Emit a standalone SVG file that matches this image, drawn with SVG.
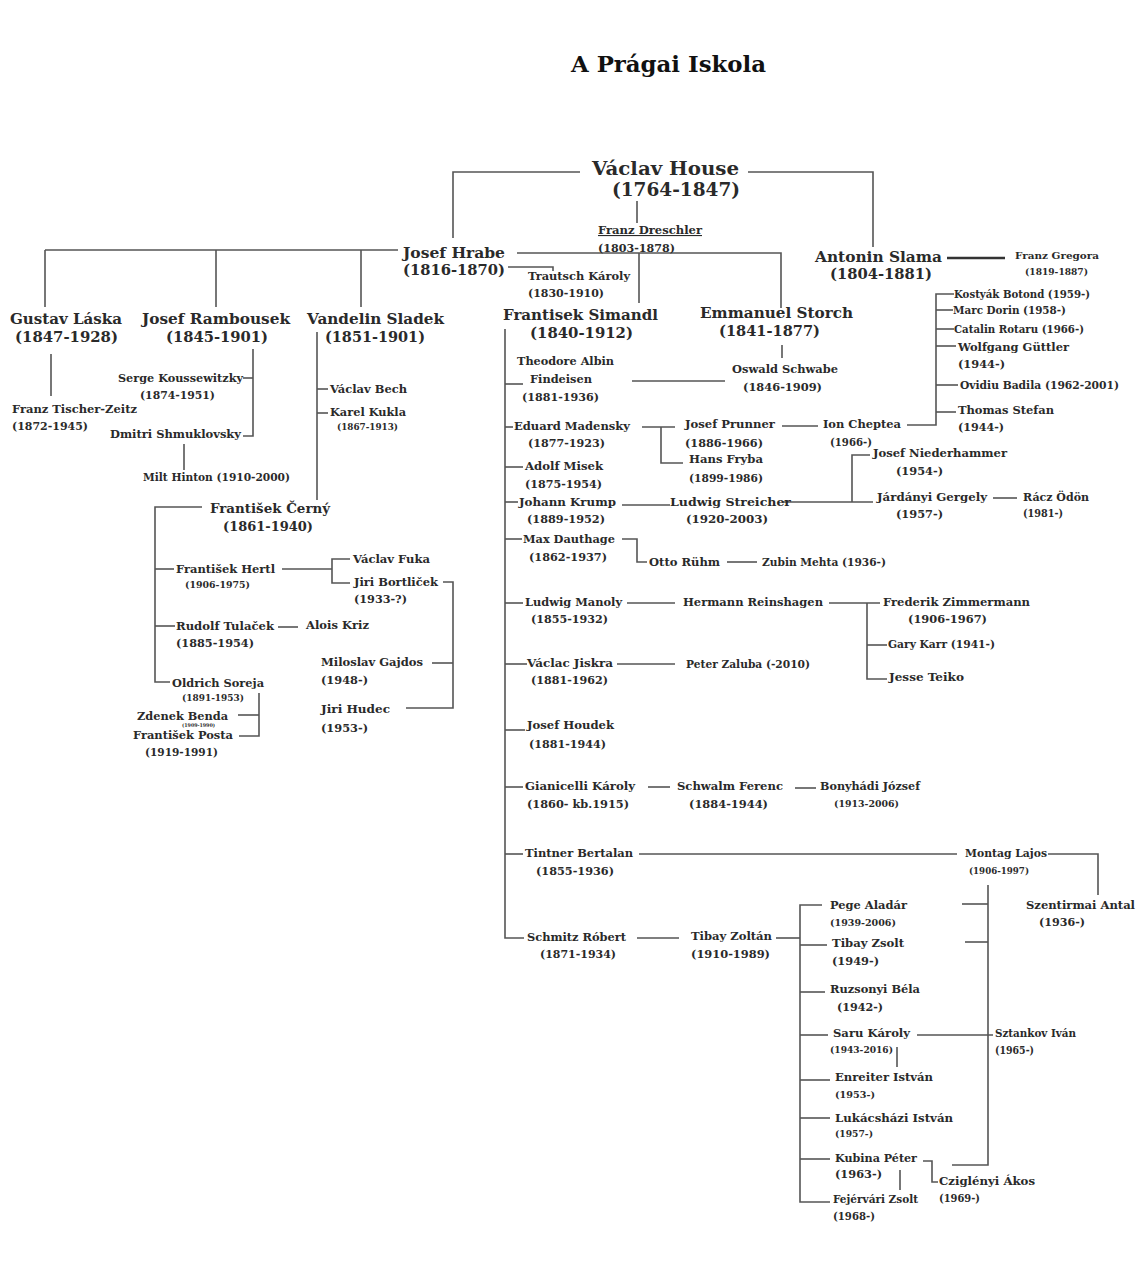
<svg xmlns="http://www.w3.org/2000/svg" width="1140" height="1270" viewBox="0 0 1140 1270">
<style>
text{font-family:"DejaVu Serif","Liberation Serif",serif;font-weight:bold;fill:#2a2a2a}
.t{font-size:22px;fill:#111}
.h1{font-size:18px}
.h2{font-size:15.5px}
.m{font-size:13px}
.s{font-size:11px}
.xs{font-size:9.5px}
.tiny{font-size:5px}
#connectors polyline,#connectors line{stroke:#555;stroke-width:1.6;fill:none}
#connectors .thick{stroke:#333;stroke-width:2.6}
</style>
<rect width="1140" height="1270" fill="#fff"/>
<text class="t" x="571" y="72" textLength="195" lengthAdjust="spacingAndGlyphs">A Prágai Iskola</text>
<g id="connectors">
<polyline points="580,172 453,172 453,238"/>
<polyline points="748,172 873,172 873,247"/>
<line x1="637" y1="201" x2="637" y2="223"/>
<line x1="398" y1="250" x2="45" y2="250"/>
<line x1="45" y1="250" x2="45" y2="307"/>
<line x1="216" y1="250" x2="216" y2="307"/>
<line x1="361" y1="250" x2="361" y2="307"/>
<polyline points="517,253 781,253 781,308"/>
<line x1="639" y1="253" x2="639" y2="303"/>
<polyline points="508,267 553,267 553,271"/>
<line class="thick" x1="947" y1="258" x2="1005" y2="258"/>
<line x1="51" y1="354" x2="51" y2="396"/>
<polyline points="243,378 253,378"/>
<polyline points="253,349 253,436 243,436"/>
<line x1="184" y1="444" x2="184" y2="470"/>
<line x1="317" y1="332" x2="317" y2="500"/>
<line x1="317" y1="389" x2="328" y2="389"/>
<line x1="317" y1="413" x2="328" y2="413"/>
<polyline points="202,507 155,507 155,682 170,682"/>
<line x1="155" y1="569" x2="174" y2="569"/>
<line x1="155" y1="626" x2="175" y2="626"/>
<line x1="282" y1="569" x2="332" y2="569"/>
<polyline points="350,559 332,559 332,583 350,583"/>
<polyline points="443,582 453,582 453,708 406,708"/>
<line x1="432" y1="663" x2="453" y2="663"/>
<line x1="278" y1="627" x2="298" y2="627"/>
<polyline points="238,715 259,715"/>
<polyline points="259,693 259,736 239,736"/>
<polyline points="505,329 505,938 524,938"/>
<line x1="505" y1="384" x2="523" y2="384"/>
<line x1="505" y1="427" x2="513" y2="427"/>
<line x1="505" y1="467" x2="523" y2="467"/>
<line x1="505" y1="502" x2="518" y2="502"/>
<line x1="505" y1="539" x2="522" y2="539"/>
<line x1="505" y1="603" x2="523" y2="603"/>
<line x1="505" y1="664" x2="527" y2="664"/>
<line x1="505" y1="730" x2="525" y2="730"/>
<line x1="505" y1="787" x2="523" y2="787"/>
<line x1="505" y1="854" x2="523" y2="854"/>
<line x1="632" y1="381" x2="725" y2="381"/>
<line x1="782" y1="345" x2="782" y2="358"/>
<line x1="642" y1="427" x2="675" y2="427"/>
<polyline points="661,427 661,463 683,463"/>
<line x1="782" y1="426" x2="818" y2="426"/>
<polyline points="907,425 936,425 936,294 954,294"/>
<line x1="936" y1="310" x2="953" y2="310"/>
<line x1="936" y1="329" x2="954" y2="329"/>
<line x1="936" y1="346" x2="956" y2="346"/>
<line x1="936" y1="385" x2="958" y2="385"/>
<line x1="936" y1="412" x2="956" y2="412"/>
<line x1="622" y1="505" x2="670" y2="505"/>
<line x1="782" y1="502" x2="873" y2="502"/>
<polyline points="870,455 852,455 852,502"/>
<line x1="993" y1="498" x2="1017" y2="498"/>
<polyline points="622,539 637,539 637,562 647,562"/>
<line x1="727" y1="562" x2="757" y2="562"/>
<line x1="627" y1="603" x2="675" y2="603"/>
<polyline points="829,603 880,603"/>
<polyline points="867,603 867,679 887,679"/>
<line x1="867" y1="645" x2="887" y2="645"/>
<line x1="617" y1="664" x2="675" y2="664"/>
<line x1="648" y1="787" x2="670" y2="787"/>
<line x1="795" y1="788" x2="816" y2="788"/>
<line x1="639" y1="854" x2="957" y2="854"/>
<polyline points="1048,854 1098,854 1098,895"/>
<line x1="637" y1="938" x2="679" y2="938"/>
<line x1="776" y1="938" x2="800" y2="938"/>
<polyline points="822,905 800,905 800,1202 830,1202"/>
<line x1="800" y1="945" x2="827" y2="945"/>
<line x1="800" y1="992" x2="825" y2="992"/>
<line x1="800" y1="1035" x2="828" y2="1035"/>
<line x1="800" y1="1080" x2="830" y2="1080"/>
<line x1="800" y1="1118" x2="830" y2="1118"/>
<line x1="800" y1="1159" x2="830" y2="1159"/>
<polyline points="988,885 988,1165 952,1165"/>
<line x1="962" y1="904" x2="988" y2="904"/>
<line x1="965" y1="942" x2="988" y2="942"/>
<line x1="917" y1="1035" x2="993" y2="1035"/>
<line x1="897" y1="1047" x2="897" y2="1067"/>
<polyline points="923,1161 932,1161 932,1182 938,1182"/>
<line x1="900" y1="1170" x2="900" y2="1190"/>
</g>
<g id="n-house"><text class="h1" x="592" y="175" textLength="147" lengthAdjust="spacingAndGlyphs">Václav House</text><text class="h1" x="612" y="196" textLength="128" lengthAdjust="spacingAndGlyphs">(1764-1847)</text></g>
<g id="n-dreschler"><text class="s" x="598" y="234" textLength="104" lengthAdjust="spacingAndGlyphs" text-decoration="underline">Franz Dreschler</text><text class="s" x="598" y="252" textLength="77" lengthAdjust="spacingAndGlyphs">(1803-1878)</text></g>
<g id="n-hrabe"><text class="h2" x="403" y="258" textLength="102" lengthAdjust="spacingAndGlyphs">Josef Hrabe</text><text class="h2" x="403" y="275" textLength="102" lengthAdjust="spacingAndGlyphs">(1816-1870)</text></g>
<g id="n-trautsch"><text class="s" x="528" y="280" textLength="102" lengthAdjust="spacingAndGlyphs">Trautsch Károly</text><text class="s" x="528" y="297" textLength="76" lengthAdjust="spacingAndGlyphs">(1830-1910)</text></g>
<g id="n-slama"><text class="h2" x="815" y="262" textLength="127" lengthAdjust="spacingAndGlyphs">Antonin Slama</text><text class="h2" x="830" y="279" textLength="102" lengthAdjust="spacingAndGlyphs">(1804-1881)</text></g>
<g id="n-gregora"><text class="xs" x="1015" y="259" textLength="84" lengthAdjust="spacingAndGlyphs">Franz Gregora</text><text class="xs" x="1025" y="275" textLength="63" lengthAdjust="spacingAndGlyphs">(1819-1887)</text></g>
<g id="n-laska"><text class="h2" x="10" y="324" textLength="112" lengthAdjust="spacingAndGlyphs">Gustav Láska</text><text class="h2" x="15" y="342" textLength="103" lengthAdjust="spacingAndGlyphs">(1847-1928)</text></g>
<g id="n-rambousek"><text class="h2" x="142" y="324" textLength="148" lengthAdjust="spacingAndGlyphs">Josef Rambousek</text><text class="h2" x="166" y="342" textLength="102" lengthAdjust="spacingAndGlyphs">(1845-1901)</text></g>
<g id="n-sladek"><text class="h2" x="307" y="324" textLength="137" lengthAdjust="spacingAndGlyphs">Vandelin Sladek</text><text class="h2" x="325" y="342" textLength="100" lengthAdjust="spacingAndGlyphs">(1851-1901)</text></g>
<g id="n-simandl"><text class="h2" x="503" y="320" textLength="155" lengthAdjust="spacingAndGlyphs">Frantisek Simandl</text><text class="h2" x="530" y="338" textLength="103" lengthAdjust="spacingAndGlyphs">(1840-1912)</text></g>
<g id="n-storch"><text class="h2" x="700" y="318" textLength="153" lengthAdjust="spacingAndGlyphs">Emmanuel Storch</text><text class="h2" x="719" y="336" textLength="101" lengthAdjust="spacingAndGlyphs">(1841-1877)</text></g>
<g id="n-tischer"><text class="s" x="12" y="413" textLength="125" lengthAdjust="spacingAndGlyphs">Franz Tischer-Zeitz</text><text class="s" x="12" y="430" textLength="76" lengthAdjust="spacingAndGlyphs">(1872-1945)</text></g>
<g id="n-koussewitzky"><text class="s" x="118" y="382" textLength="125" lengthAdjust="spacingAndGlyphs">Serge Koussewitzky</text><text class="s" x="140" y="399" textLength="75" lengthAdjust="spacingAndGlyphs">(1874-1951)</text></g>
<g id="n-shmuklovsky"><text class="s" x="110" y="438" textLength="131" lengthAdjust="spacingAndGlyphs">Dmitri Shmuklovsky</text></g>
<g id="n-hinton"><text class="s" x="143" y="481" textLength="147" lengthAdjust="spacingAndGlyphs">Milt Hinton (1910-2000)</text></g>
<g id="n-bech"><text class="s" x="330" y="393" textLength="77" lengthAdjust="spacingAndGlyphs">Václav Bech</text></g>
<g id="n-kukla"><text class="s" x="330" y="416" textLength="76" lengthAdjust="spacingAndGlyphs">Karel Kukla</text><text class="xs" x="337" y="430" textLength="61" lengthAdjust="spacingAndGlyphs">(1867-1913)</text></g>
<g id="n-cerny"><text class="m" x="210" y="513" textLength="120" lengthAdjust="spacingAndGlyphs">František Černý</text><text class="m" x="223" y="531" textLength="90" lengthAdjust="spacingAndGlyphs">(1861-1940)</text></g>
<g id="n-hertl"><text class="s" x="176" y="573" textLength="99" lengthAdjust="spacingAndGlyphs">František Hertl</text><text class="xs" x="185" y="588" textLength="65" lengthAdjust="spacingAndGlyphs">(1906-1975)</text></g>
<g id="n-fuka"><text class="s" x="353" y="563" textLength="77" lengthAdjust="spacingAndGlyphs">Václav Fuka</text></g>
<g id="n-bortlicek"><text class="s" x="354" y="586" textLength="84" lengthAdjust="spacingAndGlyphs">Jiri Bortliček</text><text class="s" x="354" y="603" textLength="53" lengthAdjust="spacingAndGlyphs">(1933-?)</text></g>
<g id="n-tulacek"><text class="s" x="176" y="630" textLength="98" lengthAdjust="spacingAndGlyphs">Rudolf Tulaček</text><text class="s" x="176" y="647" textLength="78" lengthAdjust="spacingAndGlyphs">(1885-1954)</text></g>
<g id="n-kriz"><text class="s" x="306" y="629" textLength="63" lengthAdjust="spacingAndGlyphs">Alois Kriz</text></g>
<g id="n-soreja"><text class="s" x="172" y="687" textLength="92" lengthAdjust="spacingAndGlyphs">Oldrich Soreja</text><text class="xs" x="182" y="701" textLength="62" lengthAdjust="spacingAndGlyphs">(1891-1953)</text></g>
<g id="n-benda"><text class="s" x="137" y="720" textLength="91" lengthAdjust="spacingAndGlyphs">Zdenek Benda</text><text class="tiny" x="182" y="727" textLength="33" lengthAdjust="spacingAndGlyphs">(1909-1990)</text></g>
<g id="n-posta"><text class="s" x="133" y="739" textLength="100" lengthAdjust="spacingAndGlyphs">František Posta</text><text class="s" x="145" y="756" textLength="73" lengthAdjust="spacingAndGlyphs">(1919-1991)</text></g>
<g id="n-gajdos"><text class="s" x="321" y="666" textLength="102" lengthAdjust="spacingAndGlyphs">Miloslav Gajdos</text><text class="s" x="321" y="684" textLength="47" lengthAdjust="spacingAndGlyphs">(1948-)</text></g>
<g id="n-hudec"><text class="s" x="321" y="713" textLength="69" lengthAdjust="spacingAndGlyphs">Jiri Hudec</text><text class="s" x="321" y="732" textLength="47" lengthAdjust="spacingAndGlyphs">(1953-)</text></g>
<g id="n-findeisen"><text class="s" x="517" y="365" textLength="97" lengthAdjust="spacingAndGlyphs">Theodore Albin</text><text class="s" x="530" y="383" textLength="62" lengthAdjust="spacingAndGlyphs">Findeisen</text><text class="s" x="522" y="401" textLength="77" lengthAdjust="spacingAndGlyphs">(1881-1936)</text></g>
<g id="n-schwabe"><text class="s" x="732" y="373" textLength="106" lengthAdjust="spacingAndGlyphs">Oswald Schwabe</text><text class="s" x="743" y="391" textLength="79" lengthAdjust="spacingAndGlyphs">(1846-1909)</text></g>
<g id="n-madensky"><text class="s" x="514" y="430" textLength="116" lengthAdjust="spacingAndGlyphs">Eduard Madensky</text><text class="s" x="528" y="447" textLength="77" lengthAdjust="spacingAndGlyphs">(1877-1923)</text></g>
<g id="n-prunner"><text class="s" x="685" y="428" textLength="90" lengthAdjust="spacingAndGlyphs">Josef Prunner</text><text class="s" x="685" y="447" textLength="78" lengthAdjust="spacingAndGlyphs">(1886-1966)</text></g>
<g id="n-fryba"><text class="s" x="689" y="463" textLength="74" lengthAdjust="spacingAndGlyphs">Hans Fryba</text><text class="s" x="689" y="482" textLength="74" lengthAdjust="spacingAndGlyphs">(1899-1986)</text></g>
<g id="n-cheptea"><text class="s" x="823" y="428" textLength="78" lengthAdjust="spacingAndGlyphs">Ion Cheptea</text><text class="s" x="830" y="446" textLength="42" lengthAdjust="spacingAndGlyphs">(1966-)</text></g>
<g id="n-kostyak"><text class="s" x="954" y="298" textLength="136" lengthAdjust="spacingAndGlyphs">Kostyák Botond (1959-)</text></g>
<g id="n-dorin"><text class="s" x="953" y="314" textLength="113" lengthAdjust="spacingAndGlyphs">Marc Dorin (1958-)</text></g>
<g id="n-rotaru"><text class="s" x="954" y="333" textLength="130" lengthAdjust="spacingAndGlyphs">Catalin Rotaru (1966-)</text></g>
<g id="n-guttler"><text class="s" x="958" y="351" textLength="111" lengthAdjust="spacingAndGlyphs">Wolfgang Güttler</text><text class="s" x="958" y="368" textLength="47" lengthAdjust="spacingAndGlyphs">(1944-)</text></g>
<g id="n-badila"><text class="s" x="960" y="389" textLength="159" lengthAdjust="spacingAndGlyphs">Ovidiu Badila (1962-2001)</text></g>
<g id="n-stefan"><text class="s" x="958" y="414" textLength="96" lengthAdjust="spacingAndGlyphs">Thomas Stefan</text><text class="s" x="958" y="431" textLength="46" lengthAdjust="spacingAndGlyphs">(1944-)</text></g>
<g id="n-misek"><text class="s" x="525" y="470" textLength="78" lengthAdjust="spacingAndGlyphs">Adolf Misek</text><text class="s" x="525" y="488" textLength="77" lengthAdjust="spacingAndGlyphs">(1875-1954)</text></g>
<g id="n-krump"><text class="s" x="519" y="506" textLength="97" lengthAdjust="spacingAndGlyphs">Johann Krump</text><text class="s" x="527" y="523" textLength="78" lengthAdjust="spacingAndGlyphs">(1889-1952)</text></g>
<g id="n-streicher"><text class="s" x="670" y="506" textLength="121" lengthAdjust="spacingAndGlyphs">Ludwig Streicher</text><text class="s" x="686" y="523" textLength="82" lengthAdjust="spacingAndGlyphs">(1920-2003)</text></g>
<g id="n-niederhammer"><text class="s" x="873" y="457" textLength="134" lengthAdjust="spacingAndGlyphs">Josef Niederhammer</text><text class="s" x="896" y="475" textLength="47" lengthAdjust="spacingAndGlyphs">(1954-)</text></g>
<g id="n-jardanyi"><text class="s" x="877" y="501" textLength="110" lengthAdjust="spacingAndGlyphs">Járdányi Gergely</text><text class="s" x="896" y="518" textLength="47" lengthAdjust="spacingAndGlyphs">(1957-)</text></g>
<g id="n-racz"><text class="s" x="1023" y="501" textLength="66" lengthAdjust="spacingAndGlyphs">Rácz Ödön</text><text class="s" x="1023" y="517" textLength="40" lengthAdjust="spacingAndGlyphs">(1981-)</text></g>
<g id="n-dauthage"><text class="s" x="523" y="543" textLength="92" lengthAdjust="spacingAndGlyphs">Max Dauthage</text><text class="s" x="529" y="561" textLength="78" lengthAdjust="spacingAndGlyphs">(1862-1937)</text></g>
<g id="n-ruhm"><text class="s" x="649" y="566" textLength="71" lengthAdjust="spacingAndGlyphs">Otto Rühm</text></g>
<g id="n-mehta"><text class="s" x="762" y="566" textLength="124" lengthAdjust="spacingAndGlyphs">Zubin Mehta (1936-)</text></g>
<g id="n-manoly"><text class="s" x="525" y="606" textLength="97" lengthAdjust="spacingAndGlyphs">Ludwig Manoly</text><text class="s" x="531" y="623" textLength="77" lengthAdjust="spacingAndGlyphs">(1855-1932)</text></g>
<g id="n-reinshagen"><text class="s" x="683" y="606" textLength="140" lengthAdjust="spacingAndGlyphs">Hermann Reinshagen</text></g>
<g id="n-zimmermann"><text class="s" x="883" y="606" textLength="147" lengthAdjust="spacingAndGlyphs">Frederik Zimmermann</text><text class="s" x="908" y="623" textLength="79" lengthAdjust="spacingAndGlyphs">(1906-1967)</text></g>
<g id="n-karr"><text class="s" x="888" y="648" textLength="107" lengthAdjust="spacingAndGlyphs">Gary Karr (1941-)</text></g>
<g id="n-teiko"><text class="s" x="889" y="681" textLength="75" lengthAdjust="spacingAndGlyphs">Jesse Teiko</text></g>
<g id="n-jiskra"><text class="s" x="527" y="667" textLength="86" lengthAdjust="spacingAndGlyphs">Václac Jiskra</text><text class="s" x="531" y="684" textLength="77" lengthAdjust="spacingAndGlyphs">(1881-1962)</text></g>
<g id="n-zaluba"><text class="s" x="686" y="668" textLength="124" lengthAdjust="spacingAndGlyphs">Peter Zaluba (-2010)</text></g>
<g id="n-houdek"><text class="s" x="527" y="729" textLength="87" lengthAdjust="spacingAndGlyphs">Josef Houdek</text><text class="s" x="529" y="748" textLength="77" lengthAdjust="spacingAndGlyphs">(1881-1944)</text></g>
<g id="n-gianicelli"><text class="s" x="525" y="790" textLength="110" lengthAdjust="spacingAndGlyphs">Gianicelli Károly</text><text class="s" x="527" y="808" textLength="102" lengthAdjust="spacingAndGlyphs">(1860- kb.1915)</text></g>
<g id="n-schwalm"><text class="s" x="677" y="790" textLength="106" lengthAdjust="spacingAndGlyphs">Schwalm Ferenc</text><text class="s" x="689" y="808" textLength="79" lengthAdjust="spacingAndGlyphs">(1884-1944)</text></g>
<g id="n-bonyhadi"><text class="s" x="820" y="790" textLength="100" lengthAdjust="spacingAndGlyphs">Bonyhádi József</text><text class="xs" x="834" y="807" textLength="65" lengthAdjust="spacingAndGlyphs">(1913-2006)</text></g>
<g id="n-tintner"><text class="s" x="525" y="857" textLength="108" lengthAdjust="spacingAndGlyphs">Tintner Bertalan</text><text class="s" x="536" y="875" textLength="78" lengthAdjust="spacingAndGlyphs">(1855-1936)</text></g>
<g id="n-montag"><text class="s" x="965" y="857" textLength="82" lengthAdjust="spacingAndGlyphs">Montag Lajos</text><text class="xs" x="969" y="874" textLength="60" lengthAdjust="spacingAndGlyphs">(1906-1997)</text></g>
<g id="n-szentirmai"><text class="s" x="1026" y="909" textLength="109" lengthAdjust="spacingAndGlyphs">Szentirmai Antal</text><text class="s" x="1039" y="926" textLength="46" lengthAdjust="spacingAndGlyphs">(1936-)</text></g>
<g id="n-schmitz"><text class="s" x="527" y="941" textLength="99" lengthAdjust="spacingAndGlyphs">Schmitz Róbert</text><text class="s" x="540" y="958" textLength="76" lengthAdjust="spacingAndGlyphs">(1871-1934)</text></g>
<g id="n-tibayzoltan"><text class="s" x="691" y="940" textLength="81" lengthAdjust="spacingAndGlyphs">Tibay Zoltán</text><text class="s" x="691" y="958" textLength="79" lengthAdjust="spacingAndGlyphs">(1910-1989)</text></g>
<g id="n-pege"><text class="s" x="830" y="909" textLength="77" lengthAdjust="spacingAndGlyphs">Pege Aladár</text><text class="xs" x="830" y="926" textLength="66" lengthAdjust="spacingAndGlyphs">(1939-2006)</text></g>
<g id="n-tibayzsolt"><text class="s" x="832" y="947" textLength="72" lengthAdjust="spacingAndGlyphs">Tibay Zsolt</text><text class="s" x="832" y="965" textLength="47" lengthAdjust="spacingAndGlyphs">(1949-)</text></g>
<g id="n-ruzsonyi"><text class="s" x="830" y="993" textLength="90" lengthAdjust="spacingAndGlyphs">Ruzsonyi Béla</text><text class="s" x="837" y="1011" textLength="46" lengthAdjust="spacingAndGlyphs">(1942-)</text></g>
<g id="n-saru"><text class="s" x="833" y="1037" textLength="77" lengthAdjust="spacingAndGlyphs">Saru Károly</text><text class="xs" x="830" y="1053" textLength="63" lengthAdjust="spacingAndGlyphs">(1943-2016)</text></g>
<g id="n-enreiter"><text class="s" x="835" y="1081" textLength="98" lengthAdjust="spacingAndGlyphs">Enreiter István</text><text class="xs" x="835" y="1098" textLength="40" lengthAdjust="spacingAndGlyphs">(1953-)</text></g>
<g id="n-lukacshazi"><text class="s" x="835" y="1122" textLength="118" lengthAdjust="spacingAndGlyphs">Lukácsházi István</text><text class="xs" x="835" y="1137" textLength="38" lengthAdjust="spacingAndGlyphs">(1957-)</text></g>
<g id="n-kubina"><text class="s" x="835" y="1162" textLength="82" lengthAdjust="spacingAndGlyphs">Kubina Péter</text><text class="s" x="835" y="1178" textLength="47" lengthAdjust="spacingAndGlyphs">(1963-)</text></g>
<g id="n-fejervari"><text class="s" x="833" y="1203" textLength="85" lengthAdjust="spacingAndGlyphs">Fejérvári Zsolt</text><text class="s" x="833" y="1220" textLength="42" lengthAdjust="spacingAndGlyphs">(1968-)</text></g>
<g id="n-sztankov"><text class="s" x="995" y="1037" textLength="81" lengthAdjust="spacingAndGlyphs">Sztankov Iván</text><text class="s" x="995" y="1054" textLength="39" lengthAdjust="spacingAndGlyphs">(1965-)</text></g>
<g id="n-czigleny"><text class="s" x="939" y="1185" textLength="96" lengthAdjust="spacingAndGlyphs">Cziglényi Ákos</text><text class="s" x="939" y="1202" textLength="41" lengthAdjust="spacingAndGlyphs">(1969-)</text></g>
</svg>
